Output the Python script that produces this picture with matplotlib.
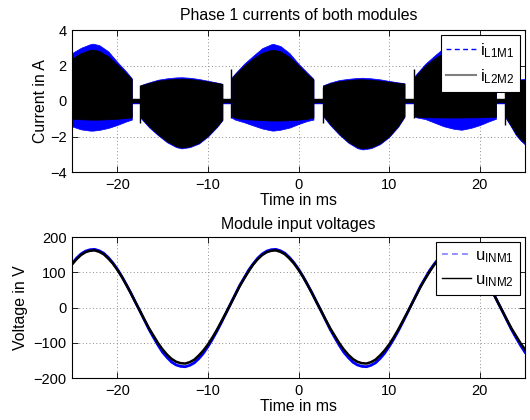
import numpy as np
import matplotlib
matplotlib.use('Agg')
import matplotlib.pyplot as plt
from matplotlib.lines import Line2D

plt.rcParams['font.family'] = ['Liberation Sans', 'DejaVu Sans']
plt.rcParams['mathtext.default'] = 'regular'

# ---- phase 1 currents: switching envelopes per conduction segment (A) ----
seg_t = [
    [-25, -24, -23, -22.7, -22, -21, -20, -19, -18.4],
    [-17.4, -16.5, -15.5, -14.5, -13.5, -12.9, -12, -11, -10, -9, -8.4],
    [-7.35, -7, -6, -5, -4, -3, -2.8, -2, -1, 0, 1, 1.65],
    [2.7, 3.5, 4.5, 5.5, 6.5, 7.1, 8, 9, 10, 11, 11.7],
    [12.75, 13, 14, 15, 16, 17, 17.3, 18, 19, 20, 21, 21.8],
    [22.8, 23.5, 24, 24.5, 25],
]
# i_L2M2 (black)
i2_hi = [
    [2.4, 2.7, 2.88, 2.9, 2.82, 2.52, 2.05, 1.55, 1.22],
    [0.88, 1.02, 1.15, 1.21, 1.25, 1.26, 1.24, 1.18, 1.1, 1.02, 0.96],
    [1.3, 1.5, 2.0, 2.4, 2.72, 2.88, 2.89, 2.8, 2.48, 2.0, 1.5, 1.2],
    [0.86, 1.0, 1.12, 1.18, 1.22, 1.22, 1.2, 1.15, 1.08, 1.02, 0.98],
    [1.3, 1.45, 2.0, 2.4, 2.72, 2.88, 2.89, 2.8, 2.48, 2.0, 1.5, 1.15],
    [1.05, 1.12, 1.15, 1.18, 1.2],
]
i2_lo = [
    [-1.0, -1.03, -1.05, -1.05, -1.05, -1.03, -1.0, -0.96, -0.92],
    [-0.92, -1.42, -1.88, -2.28, -2.55, -2.62, -2.55, -2.35, -1.95, -1.42, -1.05],
    [-0.86, -0.95, -1.02, -1.05, -1.08, -1.1, -1.1, -1.1, -1.08, -1.05, -1.0, -0.92],
    [-0.8, -1.3, -1.85, -2.3, -2.6, -2.67, -2.6, -2.38, -1.98, -1.4, -0.85],
    [-0.8, -0.88, -0.92, -0.92, -0.93, -0.93, -0.93, -0.93, -0.92, -0.92, -0.9, -0.88],
    [-0.86, -1.42, -1.85, -2.15, -2.37],
]
# i_L1M1 (blue)
i1_hi = [
    [2.7, 3.0, 3.2, 3.23, 3.15, 2.8, 2.2, 1.65, 1.28],
    [0.9, 1.05, 1.2, 1.28, 1.33, 1.34, 1.31, 1.24, 1.14, 1.04, 0.97],
    [1.35, 1.55, 2.1, 2.55, 2.98, 3.2, 3.22, 3.1, 2.7, 2.1, 1.58, 1.25],
    [0.88, 1.04, 1.18, 1.25, 1.3, 1.31, 1.28, 1.22, 1.13, 1.05, 1.0],
    [1.35, 1.52, 2.1, 2.55, 2.98, 3.2, 3.22, 3.1, 2.7, 2.1, 1.58, 1.2],
    [1.08, 1.15, 1.2, 1.22, 1.25],
]
i1_lo = [
    [-1.43, -1.6, -1.67, -1.67, -1.63, -1.52, -1.35, -1.15, -1.05],
    [-0.97, -1.48, -1.93, -2.33, -2.6, -2.67, -2.6, -2.4, -2.0, -1.47, -1.08],
    [-0.95, -1.05, -1.2, -1.38, -1.55, -1.66, -1.67, -1.62, -1.5, -1.3, -1.12, -1.05],
    [-0.85, -1.36, -1.9, -2.35, -2.66, -2.73, -2.66, -2.43, -2.03, -1.45, -0.9],
    [-0.88, -0.92, -1.02, -1.22, -1.42, -1.55, -1.58, -1.62, -1.52, -1.36, -1.15, -1.0],
    [-0.9, -1.48, -1.92, -2.22, -2.45],
]
# dead time around the zero crossings
gap_t = [[-18.4, -17.4], [-8.4, -7.35], [1.65, 2.7], [11.7, 12.75], [21.8, 22.8]]
band2 = [-0.12, 0.11]
band1 = [-0.16, 0.08]
# switching spikes at segment start
spike_t = [-17.45, -7.4, 2.65, 12.7, 22.75]
spike_hi = [0.92, 1.82, 0.8, 1.82, 1.1]
spike_lo = [-1.24, -0.96, -1.24, -0.96, -1.33]

# ---- module input voltages (V), every 0.5 ms from -25 to 25 ----
t_u = np.arange(-25, 25.01, 0.5)
u_inm1 = [124, 140, 152, 160, 164, 165, 161, 154, 142, 127, 109, 88, 65, 41, 15,
          -10, -36, -62, -85, -107, -127, -142, -155, -163, -167, -168, -164, -157, -145, -130,
          -111, -90, -67, -42, -16, 10, 36, 62, 84, 106,
          124, 140, 152, 160, 164, 165, 161, 154, 142, 127, 109, 88, 65, 41, 15,
          -10, -36, -62, -85, -107, -127, -142, -155, -163, -167, -168, -164, -157, -145, -130,
          -111, -90, -67, -42, -16, 10, 36, 62, 84, 106,
          124, 140, 152, 160, 164, 165, 161, 154, 142, 127, 109, 88, 65, 41, 15,
          -10, -36, -62, -85, -107, -127]
u_inm2 = [122, 137, 149, 157, 161, 162, 158, 151, 139, 125, 107, 87, 64, 40, 15,
          -10, -35, -59, -80, -101, -119, -134, -146, -154, -158, -159, -155, -148, -136, -122,
          -105, -85, -63, -39, -15, 10, 35, 60, 82, 103,
          122, 137, 149, 157, 161, 162, 158, 151, 139, 125, 107, 87, 64, 40, 15,
          -10, -35, -59, -80, -101, -119, -134, -146, -154, -158, -159, -155, -148, -136, -122,
          -105, -85, -63, -39, -15, 10, 35, 60, 82, 103,
          122, 137, 149, 157, 161, 162, 158, 151, 139, 125, 107, 87, 64, 40, 15,
          -10, -35, -59, -80, -101, -119]

fig = plt.figure(figsize=(5.3, 4.2), dpi=100)
ax1 = fig.add_axes([72 / 530, 1 - 172 / 420, 453 / 530, 142 / 420])
ax2 = fig.add_axes([72 / 530, 1 - 378 / 420, 453 / 530, 141 / 420])

for k in range(len(seg_t)):
    ax1.fill_between(seg_t[k], i1_lo[k], i1_hi[k], color='blue', lw=0.5, zorder=2)
for g in gap_t:
    ax1.fill_between(g, [band1[0]] * 2, [band1[1]] * 2, color='blue', lw=0.3, zorder=2)
for k in range(len(seg_t)):
    ax1.fill_between(seg_t[k], i2_lo[k], i2_hi[k], color='black', lw=0.5, zorder=3)
for g in gap_t:
    ax1.fill_between(g, [band2[0]] * 2, [band2[1]] * 2, color='black', lw=0.3, zorder=3)
ax1.vlines(spike_t, spike_lo, spike_hi, color='black', lw=1, zorder=3)

ax2.plot(t_u, u_inm1, color='blue', lw=2.0, zorder=2)
ax2.plot(t_u, u_inm2, color='black', lw=1.8, zorder=3)

for ax in (ax1, ax2):
    ax.set_xlim(-25, 25)
    ax.set_xticks([-20, -10, 0, 10, 20])
    ax.tick_params(direction='in', top=True, right=True, length=4, width=0.6,
                   labelsize=10.5, pad=4)
    ax.grid(True, color='0.55', linestyle=(0, (1, 2.5)), lw=0.7)
    ax.set_axisbelow(True)
    for s in ax.spines.values():
        s.set_linewidth(0.8)
    ax.set_xlabel('Time in ms', fontsize=11.4, labelpad=1)

ax1.set_ylim(-4, 4)
ax1.set_yticks([-4, -2, 0, 2, 4])
ax1.set_ylabel('Current in A', fontsize=11.4, labelpad=1)
ax1.set_title('Phase 1 currents of both modules', fontsize=11.4, pad=7)

ax2.set_ylim(-200, 200)
ax2.set_yticks([-200, -100, 0, 100, 200])
ax2.set_ylabel('Voltage in V', fontsize=11.4)
ax2.set_title('Module input voltages', fontsize=11.4, pad=6)

leg_kw = dict(loc='upper right', fancybox=False, edgecolor='black', framealpha=1,
              borderaxespad=0.3, handlelength=1.75, handletextpad=0.25,
              labelspacing=0.45, fontsize=12, borderpad=0.35)
h1 = [Line2D([], [], color='blue', ls='--', dashes=(3.5, 2.5), lw=1),
      Line2D([], [], color='0.5', lw=1.5)]
l1 = ax1.legend(h1, ['$i_{L1M1}$', '$i_{L2M2}$'], **leg_kw)
l1.get_frame().set_linewidth(0.8)
h2 = [Line2D([], [], color='#8080ff', ls='--', dashes=(3.5, 2.5), lw=1.2),
      Line2D([], [], color='black', lw=1)]
l2 = ax2.legend(h2, ['$u_{INM1}$', '$u_{INM2}$'], **leg_kw)
l2.get_frame().set_linewidth(0.8)

fig.savefig('out.png', dpi=100)
